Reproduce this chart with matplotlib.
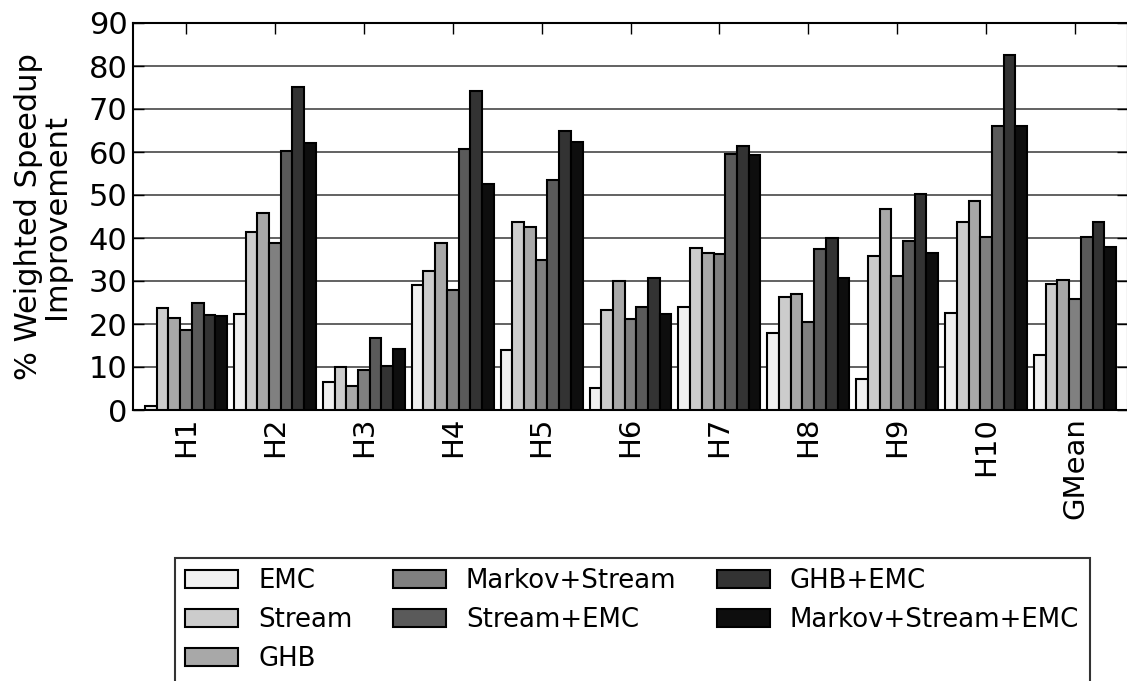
import matplotlib
matplotlib.use("Agg")
import matplotlib.pyplot as plt
import numpy as np

categories = ["H1", "H2", "H3", "H4", "H5", "H6", "H7", "H8", "H9", "H10", "GMean"]
series_names = ["EMC", "Stream", "GHB", "Markov+Stream", "Stream+EMC", "GHB+EMC", "Markov+Stream+EMC"]
emc = [0.9, 22.3, 6.5, 29.1, 14.0, 5.2, 24.0, 17.8, 7.1, 22.6, 12.7]
stream = [23.8, 41.4, 9.9, 32.4, 43.7, 23.2, 37.7, 26.3, 35.7, 43.7, 29.4]
ghb = [21.5, 45.8, 5.6, 38.9, 42.5, 30.0, 36.6, 26.9, 46.7, 48.6, 30.2]
markov_stream = [18.6, 38.8, 9.3, 27.8, 34.9, 21.2, 36.2, 20.4, 31.1, 40.2, 25.8]
stream_emc = [24.9, 60.3, 16.8, 60.8, 53.4, 23.9, 59.6, 37.4, 39.2, 66.0, 40.2]
ghb_emc = [22.1, 75.1, 10.3, 74.2, 65.0, 30.6, 61.3, 40.1, 50.2, 82.6, 43.8]
markov_stream_emc = [21.8, 62.1, 14.1, 52.6, 62.4, 22.4, 59.4, 30.7, 36.6, 66.1, 38.0]
colors = ["#f0f0f0", "#cccccc", "#a8a8a8", "#808080", "#5a5a5a", "#333333", "#0e0e0e"]

all_series = [emc, stream, ghb, markov_stream, stream_emc, ghb_emc, markov_stream_emc]

fig = plt.figure(figsize=(11.27, 6.81), dpi=100)
ax = fig.add_axes([133/1127, 1 - 410/681, 995/1127, 387/681])

w = 0.1316
x = np.arange(len(categories))
for j, (vals, name, c) in enumerate(zip(all_series, series_names, colors)):
    ax.bar(x + j * w, vals, width=w, align="edge", color=c, edgecolor="black",
           linewidth=1.5, label=name, zorder=3)

ax.set_xlim(-0.135, len(categories) - 1 + 7 * w + 0.135)
ax.set_ylim(0, 90)
ax.set_yticks(np.arange(0, 91, 10))
ax.set_xticks(x + 3.5 * w)
ax.set_xticklabels(categories, rotation=90, fontsize=21)
ax.tick_params(axis="y", labelsize=22, direction="in", length=8, right=True, width=1, pad=4)
ax.tick_params(axis="x", direction="in", length=8, top=True, width=1, pad=5)
ax.yaxis.grid(True, color="#555555", linewidth=1.3, zorder=0)
ax.set_axisbelow(True)
for s in ax.spines.values():
    s.set_linewidth(1.5)
ax.set_ylabel("% Weighted Speedup\nImprovement", fontsize=22, linespacing=0.95, labelpad=13)

leg = fig.legend(loc="upper left", bbox_to_anchor=(175/1127, 1 - 558/681), ncol=3,
                 fontsize=18.7, frameon=True, fancybox=False, edgecolor="black",
                 handlelength=2.04, handleheight=0.7, columnspacing=1.55, labelspacing=0.5,
                 borderpad=0.4, handletextpad=0.77, borderaxespad=0)
leg.get_frame().set_linewidth(1.5)

fig.savefig("out.png", dpi=100)
